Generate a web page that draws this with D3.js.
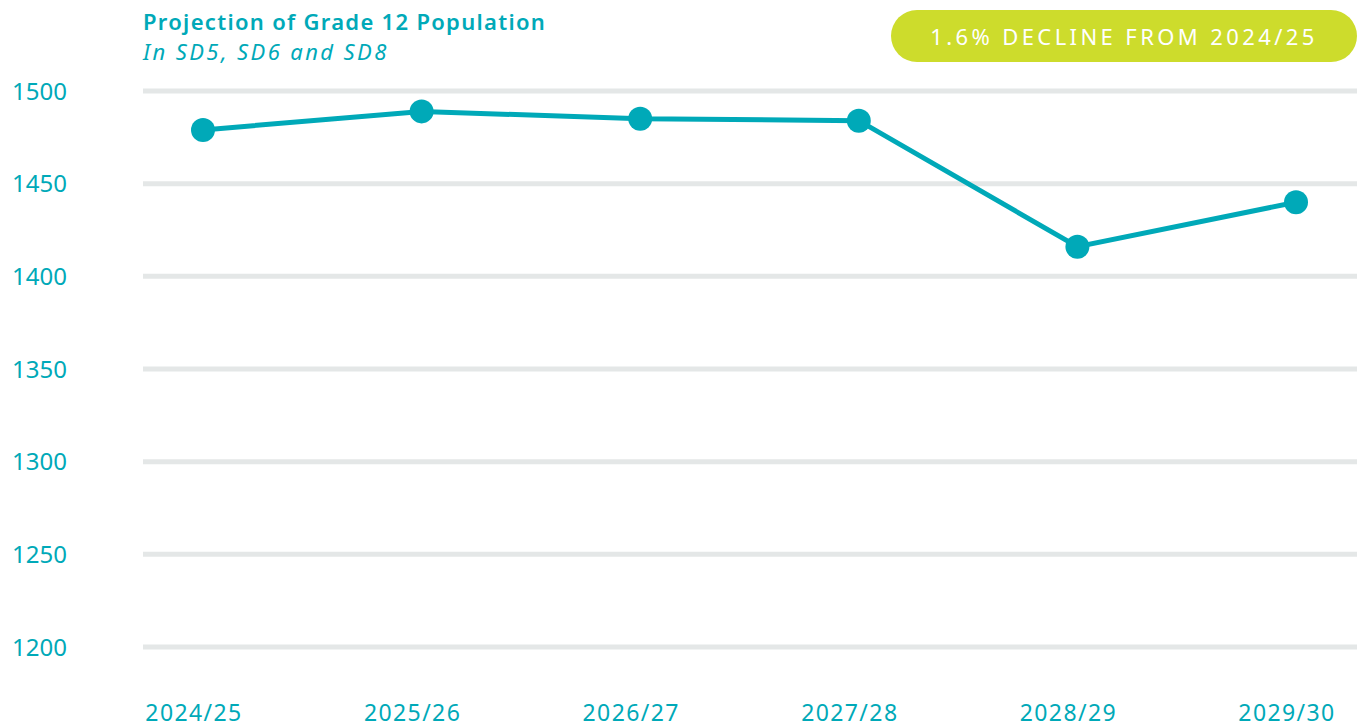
<!DOCTYPE html>
<html>
<head>
<meta charset="utf-8">
<script src="https://cdn.jsdelivr.net/npm/d3@7"></script>
<style>
  html, body { margin: 0; padding: 0; background: #fff; }
  svg { display: block; font-family: "Noto Sans", "Open Sans", sans-serif; }
</style>
</head>
<body>
<svg id="chart"></svg>
<script>
const years = ["2024/25", "2025/26", "2026/27", "2027/28", "2028/29", "2029/30"];
const population = [1479, 1489, 1485, 1484, 1416, 1440];
const yTicks = [1200, 1250, 1300, 1350, 1400, 1450, 1500];

const width = 1361;
const height = 728;
const teal = "#00a9b8";

const svg = d3.select("#chart").attr("width", width).attr("height", height);

const x = d3.scalePoint().domain(years).range([203, 1296]);
const y = d3.scaleLinear().domain([1200, 1500]).range([647, 91]);

// gridlines
svg.append("g")
  .selectAll("line")
  .data(yTicks)
  .join("line")
  .attr("x1", 143)
  .attr("x2", 1357)
  .attr("y1", (d) => y(d))
  .attr("y2", (d) => y(d))
  .attr("stroke", "#e4e7e7")
  .attr("stroke-width", 5);

// y labels
svg.append("g")
  .selectAll("text")
  .data(yTicks)
  .join("text")
  .attr("x", 12)
  .attr("y", (d) => y(d))
  .attr("dy", "0.36em")
  .attr("fill", teal)
  .attr("font-size", 24)
  .text((d) => d);

// x labels
svg.append("g")
  .selectAll("text")
  .data(years)
  .join("text")
  .attr("x", (d) => x(d) - 9)
  .attr("y", 721)
  .attr("text-anchor", "middle")
  .attr("fill", teal)
  .attr("font-size", 23)
  .attr("letter-spacing", 1.4)
  .text((d) => d);

const line = d3.line()
  .x((d, i) => x(years[i]))
  .y((d) => y(d));

svg.append("path")
  .datum(population)
  .attr("d", line)
  .attr("fill", "none")
  .attr("stroke", teal)
  .attr("stroke-width", 5);

svg.append("g")
  .selectAll("circle")
  .data(population)
  .join("circle")
  .attr("cx", (d, i) => x(years[i]))
  .attr("cy", (d) => y(d))
  .attr("r", 12)
  .attr("fill", teal);

// title
svg.append("text")
  .attr("x", 143)
  .attr("y", 29.5)
  .attr("fill", teal)
  .attr("font-size", 22)
  .attr("font-weight", 600)
  .attr("letter-spacing", 1.3)
  .text("Projection of Grade 12 Population");

svg.append("text")
  .attr("x", 143)
  .attr("y", 59.5)
  .attr("fill", teal)
  .attr("font-size", 22)
  .attr("font-style", "italic")
  .attr("letter-spacing", 2.4)
  .text("In SD5, SD6 and SD8");

// badge
const badge = svg.append("g");
badge.append("rect")
  .attr("x", 891)
  .attr("y", 10)
  .attr("width", 466)
  .attr("height", 52)
  .attr("rx", 26)
  .attr("fill", "#cddc2c");
badge.append("text")
  .attr("x", 1124)
  .attr("y", 37)
  .attr("dy", "0.36em")
  .attr("text-anchor", "middle")
  .attr("fill", "#fff")
  .attr("font-size", 22)
  .attr("letter-spacing", 3.4)
  .text("1.6% DECLINE FROM 2024/25");
</script>
</body>
</html>
